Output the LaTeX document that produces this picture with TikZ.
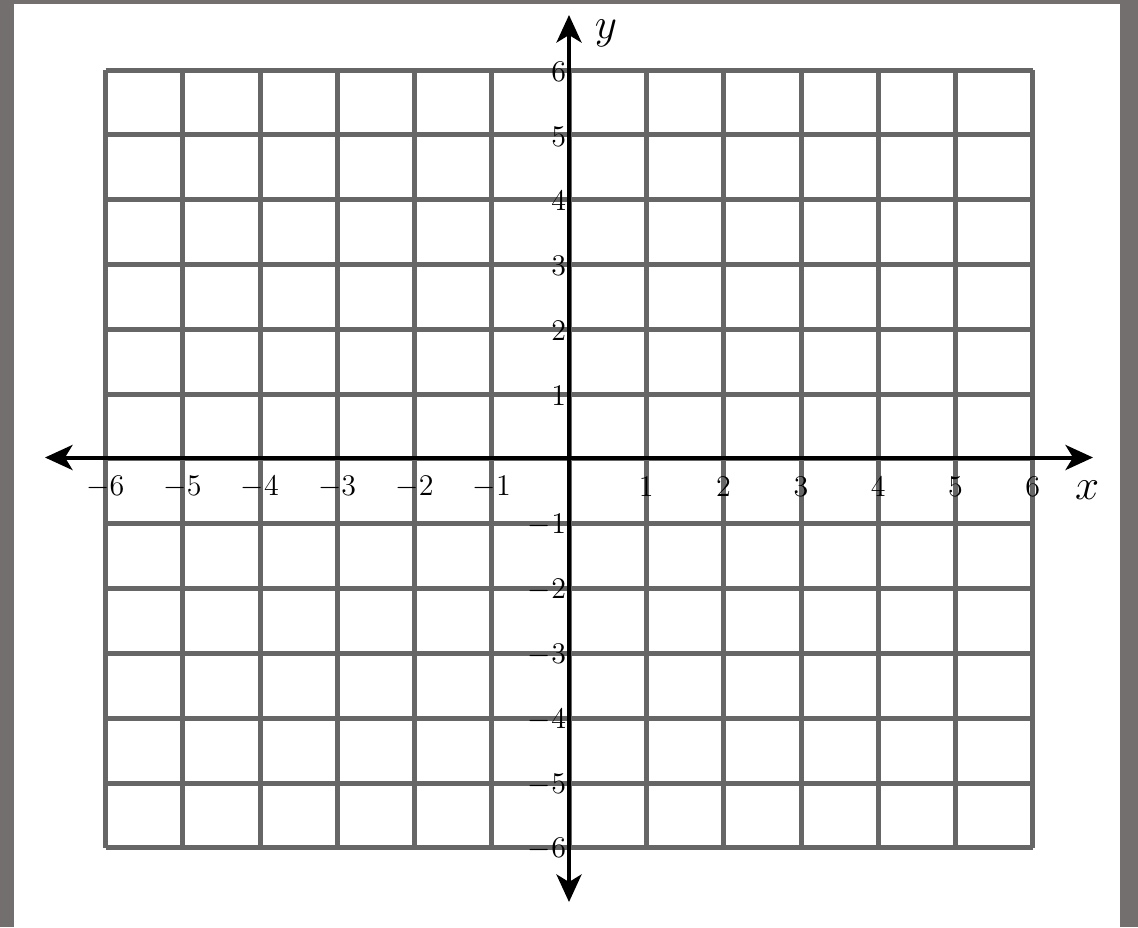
\documentclass[tikz,border=0pt]{standalone}
\usetikzlibrary{arrows.meta}
\definecolor{framegray}{RGB}{115,111,110}
\definecolor{gridgray}{RGB}{102,102,102}
\begin{document}
\begin{tikzpicture}[x=0.4pt,y=-0.4pt,
  gridline/.style={draw=gridgray,line width=2pt},
  axisline/.style={draw=black,line width=1.6pt,{Stealth[inset=3pt,length=11pt,width=10pt]}-{Stealth[inset=3pt,length=11pt,width=10pt]}},
  ticklabel/.style={font=\fontsize{13}{15}\selectfont,inner sep=1pt}]
\useasboundingbox (0,0) rectangle (1138,927);
\fill[framegray] (0,0) rectangle (1138,927);
\fill[white] (14,4) rectangle (1120,927);
% grid
\foreach \i in {0,...,12}{
  \draw[gridline] ({105.5+77.29*\i},70) -- ({105.5+77.29*\i},848);
  \draw[gridline] (105.5,{70+64.83*\i}) -- (1033,{70+64.83*\i});
}
% axes
\coordinate (xl) at (45,457.5);
\coordinate (xr) at (1093,457.5);
\coordinate (yt) at (569,15);
\coordinate (yb) at (569,902);
\draw[axisline] (xl) -- (xr);
\draw[axisline] (yb) -- (yt);
% x labels
\foreach \n in {-6,...,-1,1,2,...,6}{
  \node[ticklabel] (xlab\n) at ({569+77.29*\n},487) {$\n$};
}
% y labels
\foreach \n in {-6,...,-1,1,2,...,6}{
  \node[ticklabel,anchor=east] (ylab\n) at (569,{457.5-64.83*\n+3}) {$\n$};
}
\node[font=\fontsize{16}{18}\selectfont] (ylabel) at (606,33) {$y$};
\node[font=\fontsize{16}{18}\selectfont] (xlabel) at (1087,490) {$x$};
\end{tikzpicture}
\end{document}
